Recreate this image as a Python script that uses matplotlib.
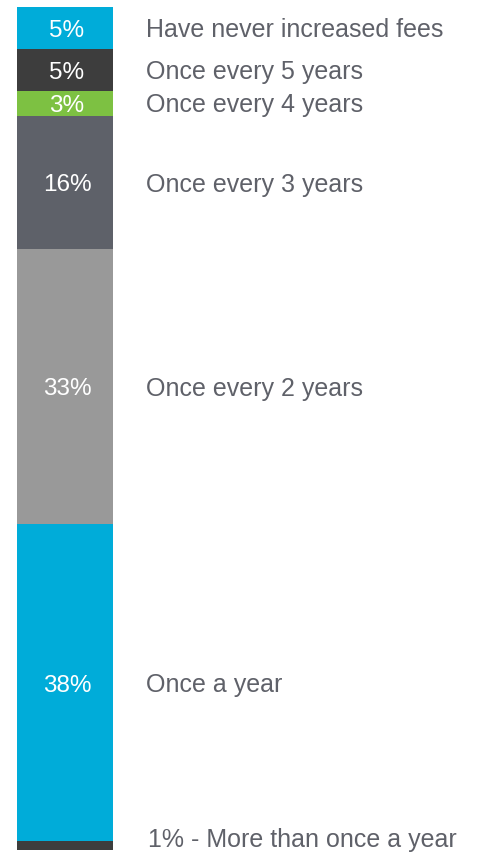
import matplotlib.pyplot as plt

# Frequency of fee increases (top to bottom of the stacked bar)
categories = [
    "Have never increased fees",
    "Once every 5 years",
    "Once every 4 years",
    "Once every 3 years",
    "Once every 2 years",
    "Once a year",
    "1% - More than once a year",
]
shares = [5, 5, 3, 16, 33, 38, 1]
bar_labels = ["5%", "5%", "3%", "16%", "33%", "38%", ""]
colors = ["#00acd9", "#3d3d3d", "#7dc142", "#5e6169", "#999999", "#00acd9", "#3d3d3d"]

plt.rcParams["font.family"] = ["Liberation Sans", "DejaVu Sans"]
text_color = "#5f6169"

fig = plt.figure(figsize=(4.92, 8.54), dpi=100)
total = sum(shares)
ax = fig.add_axes([0, 3.3 / 854, 1, 842.4 / 854])
ax.set_xlim(0, 492)
ax.set_ylim(total, 0)
ax.axis("off")

bottom = 0
for i, (cat, val, lab, col) in enumerate(zip(categories, shares, bar_labels, colors)):
    ax.bar(64.5, val, width=96, bottom=bottom, color=col, align="center",
           edgecolor="none")
    mid = bottom + val / 2
    if lab:
        ax.text(67, mid + 0.2, lab, color="white", fontsize=17.5,
                ha="center", va="center")
    if i == len(shares) - 1:
        ax.text(148, mid - 0.75, cat, color=text_color, fontsize=18,
                ha="left", va="center")
    else:
        ax.text(146, mid + 0.15, cat, color=text_color, fontsize=18,
                ha="left", va="center")
    bottom += val

fig.savefig("out.png", dpi=100)
